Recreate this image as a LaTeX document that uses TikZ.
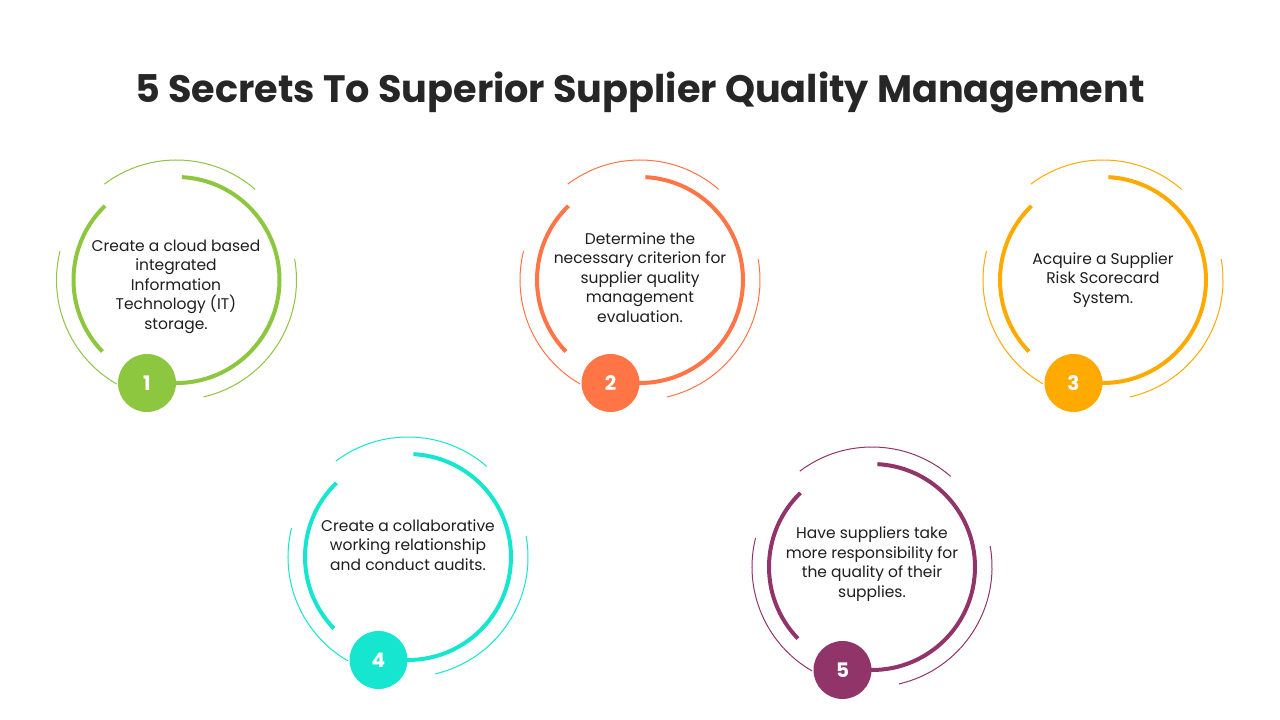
\documentclass[tikz,border=0pt]{standalone}
\usepackage{fontspec}
\setmainfont{Poppins}
\usetikzlibrary{calc}
\definecolor{cgreen}{RGB}{141,198,63}
\definecolor{corange}{RGB}{255,117,70}
\definecolor{camber}{RGB}{255,170,0}
\definecolor{cteal}{RGB}{22,230,208}
\definecolor{cplum}{RGB}{145,52,105}
\definecolor{textdark}{RGB}{30,30,30}
\definecolor{titledark}{RGB}{38,38,38}
\tikzset{
  ringthick/.style={draw=#1, line width=4pt},
  ringthin/.style={draw=#1, line width=1pt},
  numdot/.style={circle, fill=#1, minimum size=58pt, inner sep=0pt, text=white, font=\bfseries\fontsize{20}{24}\selectfont},
  bodytext/.style={align=center, text=textdark, font=\fontsize{15.5}{19.5}\selectfont},
  titletext/.style={text=titledark, font=\bfseries\fontsize{38.2}{44}\selectfont}
}
\newcommand\stepring[5]{%
  \coordinate (#1c) at (#2,#3);
  \draw[ringthick=#4] (#1c) ++(87:103) arc[start angle=87, end angle=-120, radius=103];
  \draw[ringthick=#4] (#1c) ++(134:103) arc[start angle=134, end angle=224, radius=103];
  \draw[ringthin=#4] (#1c) ++(49:120) arc[start angle=49, end angle=127, radius=120];
  \draw[ringthin=#4] (#1c) ++(166:120) arc[start angle=166, end angle=240, radius=120];
  \draw[ringthin=#4] (#1c) ++(10:120) arc[start angle=10, end angle=-77, radius=120];
  \node[numdot=#4] (#1n) at ($(#1c)+(-29.5,-103)$) {#5};
}
\begin{document}
\begin{tikzpicture}[x=1pt,y=1pt]
\useasboundingbox[fill=white] (0,0) rectangle (1280,720);
\node[titletext] (title) at (640,628) {5 Secrets To Superior Supplier Quality Management};

\stepring{r1}{176.5}{440}{cgreen}{1}
\stepring{r2}{640}{440}{corange}{2}
\stepring{r3}{1103}{440}{camber}{3}
\stepring{r4}{408}{163}{cteal}{4}
\stepring{r5}{872}{153}{cplum}{5}

\node[bodytext] (t1) at (176,433.5) {Create a cloud based\\integrated\\Information\\Technology (IT)\\storage.};
\node[bodytext] (t2) at (640,442.5) {Determine the\\necessary criterion for\\supplier quality\\management\\evaluation.};
\node[bodytext] (t3) at (1103,440) {Acquire a Supplier\\Risk Scorecard\\System.};
\node[bodytext] (t4) at (408,175) {Create a collaborative\\working relationship\\and conduct audits.};
\node[bodytext] (t5) at (872,156) {Have suppliers take\\more responsibility for\\the quality of their\\supplies.};
\end{tikzpicture}
\end{document}
